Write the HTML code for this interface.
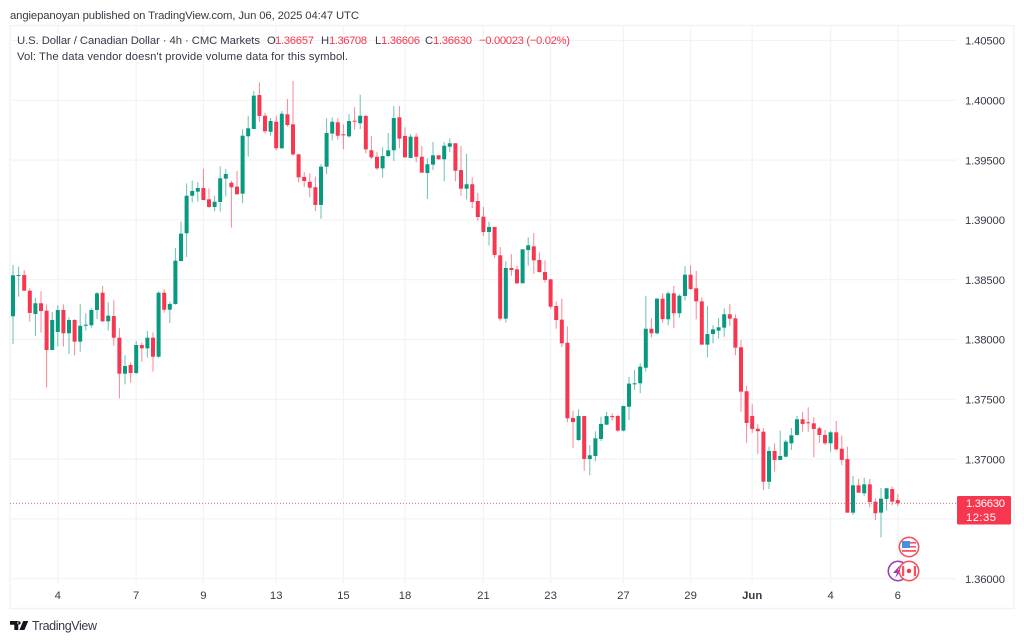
<!DOCTYPE html>
<html lang="en">
<head>
<meta charset="utf-8">
<title>USD/CAD 4h chart</title>
<style>
html,body{margin:0;padding:0;background:#fff;width:1024px;height:642px;overflow:hidden}
svg{display:block}
text{font-family:"Liberation Sans",sans-serif;font-size:11.3px;fill:#363a45}
</style>
</head>
<body>
<svg id="chart" width="1024" height="642" viewBox="0 0 1024 642" xmlns="http://www.w3.org/2000/svg">
  <rect x="0" y="0" width="1024" height="642" fill="#ffffff"/>
  <text x="10" y="19" textLength="349" lengthAdjust="spacing">angiepanoyan published on TradingView.com, Jun 06, 2025 04:47 UTC</text>
  <rect x="10" y="25.5" width="1004" height="583" fill="none" stroke="#f2f3f5" stroke-width="1.5"/>
  <g id="grid"></g>
  <g id="candles"></g>
  <line id="lastLine" x1="10" x2="957" stroke="#f23645" stroke-width="1" stroke-dasharray="1 2" opacity="0.75"/>
  <g id="yLabels"></g>
  <g id="xLabels"></g>

  <g>
    <text x="17" y="44" textLength="243" lengthAdjust="spacing">U.S. Dollar / Canadian Dollar · 4h · CMC Markets</text>
    <text x="267" y="44">O</text>
    <text x="275" y="44" textLength="39" style="fill:#f7374f">1.36657</text>
    <text x="321" y="44">H</text>
    <text x="329" y="44" textLength="38" style="fill:#f7374f">1.36708</text>
    <text x="375" y="44">L</text>
    <text x="381" y="44" textLength="39" style="fill:#f7374f">1.36606</text>
    <text x="425" y="44">C</text>
    <text x="433" y="44" textLength="39" style="fill:#f7374f">1.36630</text>
    <text x="479" y="44" textLength="91" style="fill:#f7374f">−0.00023 (−0.02%)</text>
    <text x="17" y="60" textLength="331" lengthAdjust="spacing">Vol: The data vendor doesn't provide volume data for this symbol.</text>
  </g>

  <g>
    <rect x="957" y="496" width="54" height="28.5" rx="1.5" fill="#f7374f"/>
    <text id="lastText" x="966" y="507" textLength="39" style="fill:#fff"></text>
    <text x="966" y="521" textLength="30" style="fill:#fff">12:35</text>
  </g>

  <g>
    <circle cx="909" cy="547" r="9.7" fill="#fff" stroke="#f7525f" stroke-width="1.6"/>
    <rect x="902" y="541" width="8" height="7" fill="#4a90e2"/>
    <rect x="910" y="542" width="6" height="1.6" fill="#f7525f"/>
    <rect x="910" y="546" width="6" height="1.6" fill="#f7525f"/>
    <rect x="902" y="550" width="14" height="1.8" fill="#f7525f"/>
  </g>
  <g>
    <circle cx="898" cy="571" r="9.7" fill="#fff" stroke="#9c3fb5" stroke-width="1.6"/>
    <polygon points="900,565 893,573 897,573 895,578 902,570 898,570" fill="#9c3fb5"/>
  </g>
  <g>
    <circle cx="909" cy="571" r="9.7" fill="#fff" stroke="#f7525f" stroke-width="1.6"/>
    <rect x="902" y="566" width="2.2" height="10" fill="#f7525f"/>
    <rect x="913.8" y="566" width="2.2" height="10" fill="#f7525f"/>
    <circle cx="909" cy="571" r="2.2" fill="#f23645"/>
  </g>

  <g>
    <path d="M10 621h8.3v9h-4v-5.2h-4.3z M19 621.2 a1.7 1.7 0 1 0 0.01 0 z M23.2 621h5.1l-3.9 9h-5z" fill="#131722"/>
    <text x="32" y="630" textLength="65" lengthAdjust="spacing" style="font-size:12.5px">TradingView</text>
  </g>
</svg>
<script>
var opens=[1.38194,1.38531,1.38539,1.38408,1.38213,1.38303,1.38241,1.37912,1.38063,1.38247,1.38052,1.38163,1.37982,1.38115,1.38119,1.38247,1.38391,1.38152,1.38196,1.38015,1.37714,1.37787,1.37720,1.37954,1.37926,1.38015,1.37856,1.38391,1.38249,1.38297,1.38656,1.38888,1.39202,1.39236,1.39267,1.39172,1.39108,1.39150,1.39345,1.39311,1.39278,1.39219,1.39699,1.39760,1.40044,1.39871,1.39737,1.39821,1.39599,1.39883,1.39799,1.39548,1.39359,1.39319,1.39273,1.39125,1.39445,1.39722,1.39816,1.39716,1.39699,1.39829,1.39808,1.39869,1.39582,1.39528,1.39431,1.39534,1.39582,1.39858,1.39702,1.39518,1.39696,1.39528,1.39392,1.39462,1.39540,1.39507,1.39612,1.39641,1.39417,1.39261,1.39298,1.39158,1.39027,1.38899,1.38941,1.38704,1.38174,1.38598,1.38587,1.38470,1.38748,1.38779,1.38665,1.38564,1.38503,1.38280,1.38166,1.37973,1.37344,1.37160,1.37360,1.37001,1.37026,1.37168,1.37288,1.37360,1.37360,1.37238,1.37438,1.37625,1.37634,1.37764,1.38090,1.38052,1.38341,1.38169,1.38386,1.38219,1.38364,1.38542,1.38428,1.38319,1.37957,1.38046,1.38074,1.38099,1.38211,1.38177,1.37935,1.37567,1.37360,1.37254,1.37229,1.36810,1.37068,1.36993,1.37020,1.37132,1.37202,1.37333,1.37308,1.37299,1.37258,1.37202,1.37132,1.37224,1.37087,1.37000,1.36552,1.36781,1.36714,1.36789,1.36644,1.36552,1.36667,1.36750,1.36657];
var highs=[1.38623,1.38609,1.38581,1.38428,1.38350,1.38403,1.38294,1.38230,1.38286,1.38294,1.38186,1.38171,1.38297,1.38219,1.38261,1.38397,1.38447,1.38311,1.38328,1.38094,1.37868,1.37809,1.37987,1.37973,1.38071,1.38060,1.38403,1.38422,1.38316,1.38765,1.38985,1.39306,1.39328,1.39317,1.39428,1.39264,1.39202,1.39448,1.39428,1.39328,1.39409,1.39758,1.39871,1.40078,1.40150,1.39896,1.39852,1.39871,1.39910,1.40011,1.40161,1.39554,1.39400,1.39390,1.39361,1.39465,1.39850,1.39858,1.39850,1.39799,1.39885,1.39942,1.40047,1.39877,1.39702,1.39570,1.39607,1.39727,1.39952,1.39952,1.39774,1.39716,1.39724,1.39618,1.39515,1.39651,1.39543,1.39651,1.39682,1.39641,1.39618,1.39554,1.39356,1.39227,1.39108,1.38985,1.38941,1.38773,1.38654,1.38715,1.38617,1.38754,1.38855,1.38891,1.38729,1.38662,1.38508,1.38319,1.38341,1.38110,1.37405,1.37416,1.37360,1.37118,1.37233,1.37355,1.37394,1.37383,1.37369,1.37447,1.37688,1.37745,1.37801,1.38364,1.38177,1.38350,1.38386,1.38400,1.38447,1.38378,1.38615,1.38620,1.38573,1.38353,1.38280,1.38119,1.38180,1.38261,1.38297,1.38211,1.37996,1.37611,1.37458,1.37291,1.37260,1.37104,1.37132,1.37238,1.37160,1.37260,1.37360,1.37394,1.37433,1.37350,1.37271,1.37243,1.37238,1.37319,1.37196,1.37104,1.36859,1.36834,1.36845,1.36834,1.36672,1.36758,1.36758,1.36769,1.36708];
var lows=[1.37962,1.38358,1.38406,1.38149,1.38029,1.38057,1.37600,1.37912,1.37943,1.37940,1.37879,1.37868,1.37898,1.38074,1.38099,1.38171,1.38146,1.38074,1.37948,1.37508,1.37625,1.37639,1.37709,1.37814,1.37848,1.37731,1.37848,1.38224,1.38138,1.38291,1.38652,1.38690,1.39147,1.39152,1.39166,1.39102,1.39074,1.39069,1.39197,1.38935,1.39214,1.39141,1.39528,1.39760,1.39821,1.39721,1.39704,1.39582,1.39593,1.39779,1.39534,1.39314,1.39275,1.39189,1.39074,1.39010,1.39381,1.39662,1.39668,1.39590,1.39687,1.39754,1.39760,1.39557,1.39509,1.39417,1.39353,1.39523,1.39493,1.39599,1.39523,1.39515,1.39482,1.39395,1.39175,1.39417,1.39503,1.39323,1.39565,1.39323,1.39202,1.39172,1.39097,1.38993,1.38865,1.38786,1.38679,1.38157,1.38141,1.38531,1.38464,1.38470,1.38617,1.38548,1.38559,1.38475,1.38258,1.38090,1.37937,1.37308,1.37093,1.37151,1.36901,1.36865,1.36982,1.37151,1.37285,1.37321,1.37229,1.37232,1.37327,1.37578,1.37550,1.37731,1.38018,1.38040,1.38141,1.38119,1.38094,1.38182,1.38325,1.38414,1.38169,1.37957,1.37851,1.37968,1.38007,1.38023,1.38113,1.37868,1.37396,1.37137,1.37218,1.37043,1.36742,1.36750,1.36895,1.36993,1.37015,1.37076,1.37196,1.37229,1.37227,1.37015,1.37135,1.37118,1.37062,1.37070,1.36948,1.36552,1.36533,1.36719,1.36694,1.36597,1.36491,1.36346,1.36569,1.36614,1.36606];
var closes=[1.38537,1.38539,1.38408,1.38222,1.38303,1.38238,1.37912,1.38163,1.38247,1.38052,1.38163,1.37982,1.38115,1.38124,1.38247,1.38386,1.38152,1.38199,1.38015,1.37714,1.37778,1.37720,1.37954,1.37926,1.38015,1.37856,1.38391,1.38249,1.38297,1.38659,1.38885,1.39202,1.39242,1.39267,1.39166,1.39108,1.39152,1.39348,1.39384,1.39273,1.39214,1.39704,1.39766,1.40039,1.39869,1.39741,1.39827,1.39599,1.39888,1.39793,1.39548,1.39356,1.39325,1.39269,1.39125,1.39445,1.39727,1.39821,1.39704,1.39707,1.39827,1.39821,1.39871,1.39590,1.39523,1.39431,1.39534,1.39582,1.39852,1.39679,1.39523,1.39696,1.39528,1.39395,1.39465,1.39540,1.39507,1.39620,1.39641,1.39411,1.39261,1.39298,1.39150,1.39024,1.38899,1.38941,1.38707,1.38174,1.38598,1.38581,1.38470,1.38754,1.38788,1.38662,1.38564,1.38498,1.38274,1.38163,1.37968,1.37341,1.37310,1.37360,1.37001,1.37032,1.37174,1.37294,1.37360,1.37350,1.37238,1.37444,1.37631,1.37634,1.37773,1.38090,1.38052,1.38341,1.38171,1.38386,1.38219,1.38366,1.38542,1.38422,1.38319,1.37957,1.38046,1.38085,1.38102,1.38211,1.38174,1.37932,1.37564,1.37302,1.37252,1.37233,1.36811,1.37068,1.36993,1.37026,1.37146,1.37199,1.37333,1.37294,1.37302,1.37252,1.37202,1.37132,1.37224,1.37082,1.36993,1.36552,1.36781,1.36719,1.36789,1.36641,1.36547,1.36669,1.36756,1.36644,1.36630];
var priceTicks=[1.405,1.40,1.395,1.39,1.385,1.38,1.375,1.37,1.365,1.36];
var priceTickLabels=["1.40500","1.40000","1.39500","1.39000","1.38500","1.38000","1.37500","1.37000","","1.36000"];
var timeTickBars=[8,22,34,47,59,70,84,96,109,121,132,146,158];
var timeTickLabels=["4","7","9","13","15","18","21","23","27","29","Jun","4","6"];
var lastPrice=1.36630;

var NS='http://www.w3.org/2000/svg';
function yScale(price){return 40.5+(1.405-price)*(538.2/0.045);}
function xScale(bar){return 13+bar*5.6;}
function mk(tag,parent){var el=document.createElementNS(NS,tag);parent.appendChild(el);return el;}
function set(el,k,v){el.setAttribute(k,v);}

var grid=document.getElementById('grid');
var yLabels=document.getElementById('yLabels');
var xLabels=document.getElementById('xLabels');
var candles=document.getElementById('candles');

priceTicks.forEach(function(p,i){
  var y=yScale(p);
  var line=mk('line',grid);
  
  
  set(line,'x1',10);set(line,'x2',957);set(line,'y1',y);set(line,'y2',y);
  set(line,'stroke','#f2f3f5');set(line,'stroke-width',1.2);
  if(priceTickLabels[i]){
    var t=mk('text',yLabels);
    
    
    set(t,'x',965);set(t,'y',y+4.2);set(t,'textLength',40);
    t.textContent=priceTickLabels[i];
  }
});

timeTickBars.forEach(function(b,i){
  var x=xScale(b);
  var line=mk('line',grid);
  
  
  set(line,'x1',x);set(line,'x2',x);set(line,'y1',26);set(line,'y2',583);
  set(line,'stroke','#f2f3f5');set(line,'stroke-width',1.2);
  var t=mk('text',xLabels);
  
  
  set(t,'x',x);set(t,'y',599);set(t,'text-anchor','middle');
  if(timeTickLabels[i]==='Jun'){t.style.fontWeight='bold';}
  t.textContent=timeTickLabels[i];
});

opens.forEach(function(o,i){
  var c=closes[i],up=c>=o,col=up?'#089981':'#f7374f',x=xScale(i);
  var g=mk('g',candles);
  
  
  var w=mk('line',g);
  
  
  set(w,'x1',x);set(w,'x2',x);set(w,'y1',yScale(highs[i]));set(w,'y2',yScale(lows[i]));
  set(w,'stroke',col);set(w,'stroke-width',1);set(w,'stroke-opacity',0.6);
  var b=mk('rect',g);
  
  
  var top=yScale(Math.max(o,c)),bot=yScale(Math.min(o,c));
  set(b,'x',x-2);set(b,'width',4);set(b,'y',top);set(b,'height',Math.max(bot-top,1));
  set(b,'fill',col);
});

var ly=yScale(lastPrice);
var ll=document.getElementById('lastLine');
set(ll,'y1',ly);set(ll,'y2',ly);
document.getElementById('lastText').textContent=lastPrice.toFixed(5);
</script>
</body>
</html>
